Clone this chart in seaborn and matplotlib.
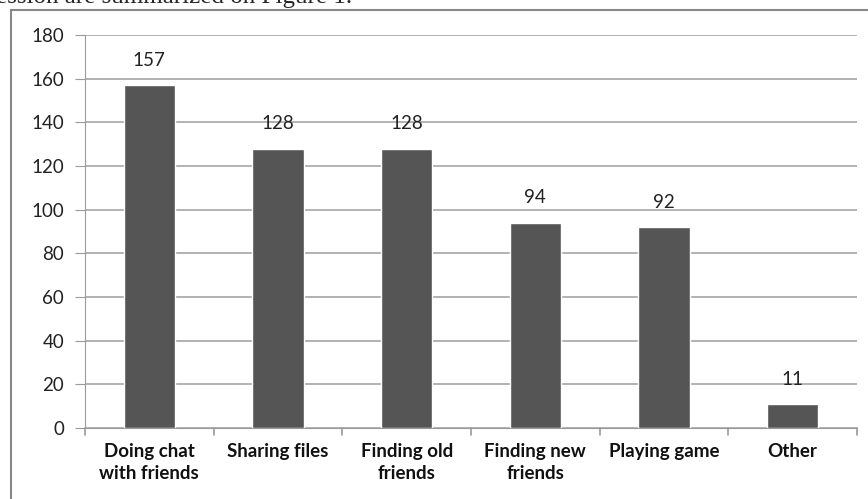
import matplotlib
matplotlib.use("Agg")
import matplotlib.pyplot as plt
import seaborn as sns
import pandas as pd
from matplotlib.patches import Rectangle

############# data
categories = ["Doing chat\nwith friends", "Sharing files", "Finding old\nfriends",
              "Finding new\nfriends", "Playing game", "Other"]
counts = [157, 128, 128, 94, 92, 11]
y_ticks = [0, 20, 40, 60, 80, 100, 120, 140, 160, 180]

df = pd.DataFrame({"activity": categories, "count": counts})

############# style
sns.set_style("white")
plt.rcParams["font.family"] = ["Lato", "DejaVu Sans"]

fig = plt.figure(figsize=(8.68, 4.99), dpi=100)
ax = fig.add_axes([85 / 868, 1 - 428 / 499, (857 - 85) / 868, (428 - 35) / 499])

sns.barplot(data=df, x="activity", y="count", color="#555555", width=0.4,
            saturation=1, ax=ax)

for p, v in zip(ax.patches, counts):
    ax.text(p.get_x() + p.get_width() / 2, v + 7.5, str(v), ha="center",
            va="bottom", fontsize=13.5, color="#222222")

############# axes
ax.set_ylim(0, 180)
ax.set_yticks(y_ticks)
ax.set_yticklabels([str(t) for t in y_ticks], fontsize=13.5, color="#222222")
ax.set_xlim(-0.5, len(categories) - 0.5)
ax.set_xticks(range(len(categories)))
ax.set_xticklabels(categories, fontsize=13.5, fontweight="bold", color="#111111",
                   linespacing=1.35)
ax.set_xlabel("")
ax.set_ylabel("")
ax.yaxis.grid(True, color="#a6a6a6", linewidth=1.2)
ax.set_axisbelow(True)
for s in ["top", "right"]:
    ax.spines[s].set_visible(False)
ax.spines["left"].set_color("#9a9a9a")
ax.spines["bottom"].set_color("#9a9a9a")
ax.tick_params(axis="y", length=7, color="#9a9a9a", pad=8, left=True)
ax.tick_params(axis="x", length=0, pad=11)

# category boundary ticks (Excel style)
for b in range(len(categories) + 1):
    ax.plot([b - 0.5, b - 0.5], [0, -3], color="#9a9a9a", lw=1.2, clip_on=False)

############# chart frame and document text
fig.patches.append(Rectangle((11 / 868, -0.1), 1.2, 1 - 10 / 499 + 0.1,
                             transform=fig.transFigure, fill=False,
                             edgecolor="#888888", linewidth=1.5))
fig.text(-0.005, 1 - 3 / 499, "ession are summarized on Figure 1.",
         family="Liberation Serif", fontsize=18, va="baseline", ha="left")

fig.savefig("out.png", dpi=100)
